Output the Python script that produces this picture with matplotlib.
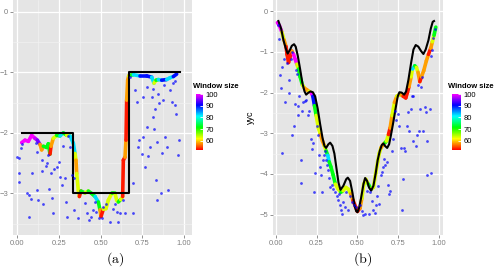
import numpy as np
import matplotlib
matplotlib.use('Agg')
import matplotlib.pyplot as plt
from matplotlib.collections import LineCollection
from matplotlib.colors import LinearSegmentedColormap, Normalize
from matplotlib.cm import ScalarMappable
import colorsys

plt.rcParams['font.family'] = ['Liberation Sans', 'DejaVu Sans']
plt.rcParams['mathtext.fontset'] = 'cm'

# ---- panel (a) data ----
step_x = [0.03, 0.333, 0.333, 0.667, 0.667, 0.975]
step_y = [-2, -2, -3, -3, -1, -1]

est_a_x = [0.026, 0.046, 0.066, 0.086, 0.106, 0.12, 0.136, 0.146, 0.156, 0.176,
           0.186, 0.196, 0.202, 0.216, 0.236, 0.256, 0.276, 0.296, 0.316, 0.336,
           0.346, 0.352, 0.356, 0.366, 0.372, 0.382, 0.406, 0.426, 0.446, 0.466,
           0.486, 0.496, 0.502, 0.516, 0.532, 0.546, 0.566, 0.586, 0.596, 0.606,
           0.62, 0.632, 0.636, 0.646, 0.652, 0.656, 0.662, 0.668, 0.676, 0.696,
           0.736, 0.776, 0.806, 0.82, 0.832, 0.846, 0.866, 0.896, 0.916, 0.936, 0.956]
est_a_y = [-2.16, -2.12, -2.14, -2.04, -2.09, -2.12, -2.19, -2.28, -2.22, -2.24,
           -2.18, -2.35, -2.22, -2.09, -2.04, -2.05, -2.0, -2.04, -2.05, -2.17,
           -2.34, -2.45, -2.67, -2.95, -3.05, -2.96, -2.99, -2.96, -3.0, -3.05,
           -3.14, -3.27, -3.38, -3.26, -3.25, -3.11, -3.0, -3.0, -3.11, -3.14,
           -3.1, -3.05, -2.45, -2.4, -2.12, -1.46, -1.13, -1.06, -1.05, -1.04,
           -1.06, -1.06, -1.08, -1.18, -1.13, -1.12, -1.13, -1.12, -1.09, -1.07, -1.03]
win_a = [100, 100, 100, 100, 98, 95, 58, 58, 72, 72,
         72, 53, 58, 63, 72, 82, 72, 63, 82, 82,
         63, 58, 63, 63, 53, 72, 63, 72, 72, 82,
         72, 58, 53, 63, 63, 63, 72, 63, 63, 72,
         63, 53, 53, 58, 53, 58, 58, 63, 72, 82,
         90, 90, 82, 63, 72, 82, 90, 82, 82, 90, 90]

pts_a_x = [0.01, 0.01, 0.0, 0.01, 0.02, 0.03, 0.056, 0.068, 0.08, 0.07, 0.088, 0.11,
           0.116, 0.12, 0.126, 0.146, 0.15, 0.152, 0.17, 0.176, 0.182, 0.19, 0.2,
           0.206, 0.216, 0.22, 0.236, 0.25, 0.256, 0.266, 0.276, 0.286, 0.292, 0.296,
           0.306, 0.316, 0.326, 0.34, 0.34, 0.366, 0.406, 0.416, 0.432, 0.44, 0.452,
           0.466, 0.472, 0.488, 0.506, 0.516, 0.532, 0.556, 0.572, 0.586, 0.596,
           0.606, 0.616, 0.632, 0.646, 0.676, 0.692, 0.696, 0.706, 0.716, 0.722,
           0.732, 0.746, 0.752, 0.756, 0.766, 0.776, 0.78, 0.786, 0.796, 0.806,
           0.812, 0.816, 0.822, 0.826, 0.832, 0.836, 0.84, 0.846, 0.852, 0.86,
           0.866, 0.872, 0.88, 0.886, 0.896, 0.906, 0.916, 0.926, 0.936, 0.946,
           0.952, 0.966, 0.972, 0.945]
pts_a_y = [-2.81, -2.67, -2.4, -2.42, -2.25, -2.18, -2.99, -3.03, -3.09, -3.38, -2.67,
           -2.16, -2.31, -2.94, -3.11, -2.45, -2.63, -3.18, -2.55, -2.5, -2.36, -2.93,
           -2.67, -3.07, -3.32, -2.6, -2.56, -2.48, -2.72, -2.86, -2.21, -2.75, -3.14,
           -3.38, -2.05, -2.24, -2.7, -2.75, -3.27, -3.41, -3.15, -3.33, -3.44, -3.38,
           -3.27, -3.14, -3.3, -3.41, -3.4, -3.22, -3.18, -3.47, -3.25, -3.18, -3.3,
           -3.47, -3.33, -3.11, -3.33, -1.07, -3.32, -2.83, -1.29, -1.49, -2.23,
           -2.12, -2.35, -1.4, -2.06, -2.56, -1.24, -1.9, -2.38, -2.23, -1.4,
           -1.27, -1.73, -1.93, -1.6, -2.78, -3.11, -2.15, -1.35, -1.51, -3.0,
           -2.34, -1.46, -1.21, -2.06, -2.23, -2.94, -1.29, -1.49, -1.18, -1.54,
           -1.68, -2.37, -2.12, -1.15]

# ---- panel (b) data ----
curve_b_x = [0.016, 0.033, 0.047, 0.061, 0.073, 0.088, 0.098, 0.112, 0.122, 0.135,
             0.149, 0.163, 0.176, 0.186, 0.2, 0.212, 0.227, 0.241, 0.257, 0.271,
             0.286, 0.298, 0.308, 0.322, 0.333, 0.347, 0.359, 0.373, 0.384, 0.396,
             0.414, 0.431, 0.441, 0.455, 0.469, 0.482, 0.492, 0.5, 0.51, 0.522,
             0.537, 0.547, 0.559, 0.571, 0.584, 0.598, 0.612, 0.624, 0.637, 0.649,
             0.659, 0.669, 0.682, 0.694, 0.706, 0.72, 0.735, 0.747, 0.757, 0.771,
             0.786, 0.798, 0.812, 0.829, 0.843, 0.857, 0.873, 0.89, 0.904, 0.918,
             0.935, 0.949, 0.961, 0.969]
curve_b_y = [-0.24, -0.43, -0.71, -0.91, -1.04, -0.94, -0.85, -0.81, -0.87, -1.1,
             -1.42, -1.77, -1.97, -2.05, -2.0, -1.97, -1.99, -2.09, -2.4, -2.76,
             -3.11, -3.31, -3.36, -3.27, -3.23, -3.31, -3.5, -3.9, -4.21, -4.39,
             -4.29, -4.13, -4.09, -4.17, -4.45, -4.76, -4.91, -4.94, -4.84, -4.6,
             -4.25, -4.1, -4.17, -4.33, -4.41, -4.29, -3.98, -3.66, -3.43, -3.29,
             -3.25, -3.31, -3.36, -3.27, -3.03, -2.72, -2.36, -2.09, -1.99, -2.0,
             -2.05, -1.97, -1.69, -1.26, -0.94, -0.83, -0.87, -0.98, -1.05, -0.94,
             -0.71, -0.43, -0.26, -0.24]

est_b_x = [0.01, 0.022, 0.037, 0.051, 0.063, 0.069, 0.078, 0.086, 0.098, 0.108,
           0.119, 0.129, 0.139, 0.149, 0.163, 0.176, 0.19, 0.204, 0.216, 0.227,
           0.237, 0.247, 0.261, 0.273, 0.286, 0.298, 0.308, 0.318, 0.327, 0.337,
           0.351, 0.365, 0.382, 0.398, 0.412, 0.429, 0.443, 0.459, 0.473, 0.488,
           0.5, 0.516, 0.527, 0.539, 0.551, 0.567, 0.584, 0.598, 0.612, 0.624,
           0.633, 0.645, 0.659, 0.669, 0.678, 0.69, 0.7, 0.712, 0.727, 0.741,
           0.755, 0.767, 0.78, 0.796, 0.806, 0.816, 0.829, 0.837, 0.851, 0.861,
           0.871, 0.882, 0.892, 0.906, 0.922, 0.935, 0.949, 0.959, 0.969, 0.98]
est_b_y = [-0.28, -0.35, -0.51, -0.71, -0.87, -1.06, -1.26, -1.14, -0.98, -1.05,
           -1.18, -1.3, -1.42, -1.61, -1.81, -1.89, -1.93, -1.97, -2.0, -2.09,
           -2.32, -2.56, -2.87, -3.03, -3.19, -3.31, -3.43, -3.54, -3.7, -3.82,
           -4.02, -4.25, -4.37, -4.45, -4.41, -4.33, -4.37, -4.49, -4.65, -4.8,
           -4.92, -4.84, -4.6, -4.25, -4.13, -4.25, -4.37, -4.33, -3.98, -3.7,
           -3.5, -3.35, -3.27, -3.23, -3.19, -3.03, -2.87, -2.56, -2.24, -2.09,
           -2.05, -2.05, -2.09, -2.13, -2.0, -1.85, -1.61, -1.42, -1.34, -1.38,
           -1.5, -1.73, -1.61, -1.46, -1.22, -1.06, -0.91, -0.75, -0.59, -0.39]
win_b = [100, 100, 63, 58, 53, 53, 53, 53, 58, 100,
         100, 63, 72, 72, 63, 58, 58, 63, 100, 90,
         72, 63, 63, 58, 58, 63, 72, 82, 72, 72,
         72, 63, 63, 72, 63, 63, 63, 58, 53, 53,
         53, 58, 63, 63, 63, 72, 63, 63, 63, 63,
         63, 58, 58, 72, 63, 53, 58, 63, 58, 63,
         63, 58, 53, 53, 53, 58, 63, 82, 72, 63,
         58, 53, 58, 58, 58, 53, 58, 63, 72, 72]

pts_b_x = [0.016, 0.022, 0.027, 0.033, 0.041, 0.053, 0.057, 0.037, 0.067, 0.078,
           0.084, 0.094, 0.098, 0.1, 0.112, 0.118, 0.122, 0.128, 0.135, 0.139,
           0.145, 0.155, 0.155, 0.163, 0.169, 0.176, 0.184, 0.196, 0.204, 0.216,
           0.22, 0.231, 0.237, 0.241, 0.251, 0.257, 0.265, 0.271, 0.276, 0.286,
           0.292, 0.298, 0.302, 0.306, 0.312, 0.318, 0.327, 0.333, 0.343, 0.353,
           0.363, 0.373, 0.378, 0.386, 0.392, 0.398, 0.406, 0.414, 0.422, 0.433,
           0.443, 0.453, 0.467, 0.476, 0.49, 0.516, 0.527, 0.537, 0.547, 0.561,
           0.571, 0.578, 0.588, 0.598, 0.608, 0.612, 0.622, 0.629, 0.635, 0.643,
           0.649, 0.655, 0.665, 0.669, 0.68, 0.686, 0.694, 0.702, 0.71, 0.718,
           0.731, 0.739, 0.749, 0.753, 0.769, 0.773, 0.782, 0.788, 0.792, 0.802,
           0.808, 0.816, 0.829, 0.833, 0.84, 0.843, 0.857, 0.863, 0.869, 0.878,
           0.884, 0.89, 0.898, 0.904, 0.914, 0.92, 0.925, 0.929, 0.943, 0.949,
           0.953, 0.957, 0.963, 0.974]
pts_b_y = [-0.34, -0.67, -1.57, -1.89, -1.38, -1.18, -2.24, -3.49, -1.26, -2.0,
           -1.69, -1.18, -3.03, -1.0, -2.83, -2.28, -1.44, -1.54, -2.32, -2.56,
           -2.09, -3.66, -4.21, -2.44, -2.24, -2.2, -2.17, -2.56, -2.44, -3.15,
           -3.39, -3.23, -4.45, -3.98, -2.83, -3.03, -3.54, -3.82, -4.02, -4.45,
           -3.66, -3.54, -3.43, -3.66, -3.78, -3.9, -4.09, -4.33, -4.27, -4.37,
           -4.45, -4.53, -4.65, -4.49, -4.76, -4.88, -4.98, -4.69, -4.8, -4.45,
           -4.88, -4.53, -4.69, -4.76, -4.8, -4.76, -4.92, -5.0, -4.98, -4.41,
           -4.98, -4.45, -4.67, -4.88, -4.96, -4.76, -4.53, -4.29, -4.74, -4.02,
           -3.94, -3.82, -3.62, -3.78, -3.7, -4.27, -4.49, -4.43, -3.43, -3.15,
           -2.44, -2.68, -2.52, -2.83, -3.37, -4.88, -4.12, -3.35, -3.43, -2.83,
           -2.48, -2.95, -2.4, -2.09, -3.19, -2.09, -3.31, -3.03, -1.81, -2.95,
           -2.4, -1.85, -1.61, -2.95, -2.36, -2.48, -3.19, -4.02, -2.4, -3.98,
           -1.1, -0.94, -0.65, -0.43]

# rainbow red -> magenta
cols = [colorsys.hsv_to_rgb(h, 1, 1) for h in np.linspace(0, 0.83, 50)]
cmap = LinearSegmentedColormap.from_list('win', cols)
norm = Normalize(vmin=52, vmax=100)

W, H = 495, 270
fig = plt.figure(figsize=(W / 100, H / 100), dpi=100)


def panel(left, right, xlim, ylim, yticks):
    ax = fig.add_axes([left / W, 1 - 235 / H, (right - left) / W, 235 / H])
    ax.set_facecolor('#E5E5E5')
    ax.set_xlim(xlim)
    ax.set_ylim(ylim)
    ax.set_xticks([0, 0.25, 0.5, 0.75, 1.0])
    ax.set_xticklabels(['0.00', '0.25', '0.50', '0.75', '1.00'])
    ax.set_yticks(yticks)
    ax.set_yticklabels([str(int(t)) if t == 0 else '\u2212' + str(int(-t)) for t in yticks])
    ax.set_xticks([0.125, 0.375, 0.625, 0.875], minor=True)
    ax.set_yticks([t - 0.5 for t in yticks], minor=True)
    ax.grid(True, which='major', color='white', lw=0.9)
    ax.grid(True, which='minor', color='#F2F2F2', lw=0.45)
    ax.set_axisbelow(True)
    for s in ax.spines.values():
        s.set_visible(False)
    ax.tick_params(which='major', length=2, width=0.6, color='#7F7F7F',
                   labelsize=5.5, labelcolor='#7F7F7F', pad=1.5)
    ax.tick_params(which='minor', length=0)
    return ax


def colored(ax, x, y, w):
    p = np.column_stack([x, y])
    segs = np.stack([p[:-1], p[1:]], axis=1)
    lc = LineCollection(segs, cmap=cmap, norm=norm, linewidths=2.6,
                        capstyle='round', joinstyle='round', zorder=2)
    lc.set_array(np.array(w[:-1], dtype=float))
    ax.add_collection(lc)


def legend_bar(x0, x1, tx):
    cax = fig.add_axes([x0 / W, 1 - 150 / H, (x1 - x0) / W, 56 / H])
    cb = fig.colorbar(ScalarMappable(norm=norm, cmap=cmap), cax=cax)
    cb.outline.set_visible(False)
    cb.set_ticks([60, 70, 80, 90, 100])
    cax.tick_params(length=2, width=0.6, color='white', direction='in',
                    labelsize=5.5, labelcolor='black', pad=2)
    fig.text(tx / W, 1 - 87 / H, 'Window size', fontsize=5.5, fontweight='bold',
             ha='left', va='center')


# (a)
ax1 = panel(13, 191.5, (-0.026, 1.045), (-3.685, 0.193), [0, -1, -2, -3])
colored(ax1, est_a_x, est_a_y, win_a)
ax1.plot(step_x, step_y, color='black', lw=1.5, zorder=3)
ax1.scatter(pts_a_x, pts_a_y, s=4, color='#0000FF', alpha=0.7, lw=0, zorder=4)
legend_bar(196, 203, 193)
fig.text(115 / W, 1 - 259 / H, r'$\mathrm{(a)}$', fontsize=10, ha='center', va='center')

# (b)
ax2 = panel(273, 443, (-0.017, 1.024), (-5.28, 0.277), [0, -1, -2, -3, -4, -5])
colored(ax2, est_b_x, est_b_y, win_b)
ax2.plot(curve_b_x, curve_b_y, color='black', lw=1.5, zorder=3)
ax2.scatter(pts_b_x, pts_b_y, s=4, color='#0000FF', alpha=0.7, lw=0, zorder=4)
ax2.set_ylabel('yyc', fontsize=6.5, labelpad=3)
legend_bar(452, 461, 448)
fig.text(363 / W, 1 - 259 / H, r'$\mathrm{(b)}$', fontsize=10, ha='center', va='center')

fig.savefig('out.png', dpi=100)
